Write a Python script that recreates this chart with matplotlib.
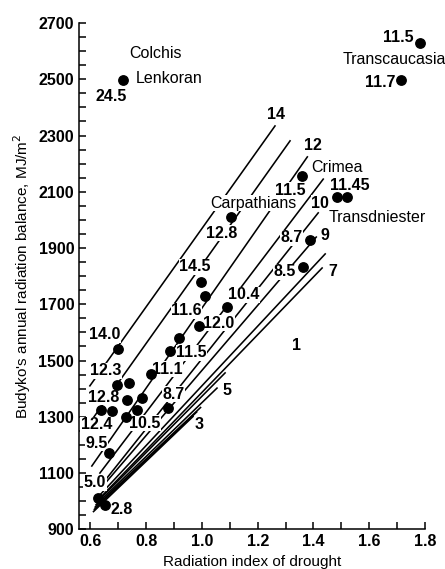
import matplotlib
matplotlib.use("Agg")
import matplotlib.pyplot as plt
from matplotlib.ticker import MultipleLocator

plt.rcParams['font.family'] = ['Liberation Sans', 'DejaVu Sans']

# observation points
pt_x = [0.716, 1.783, 1.714, 1.358, 1.484, 1.522, 1.104, 1.388, 1.362, 0.997,
        1.011, 1.089, 0.991, 0.918, 0.698, 0.885, 0.817, 0.696, 0.739, 0.732,
        0.784, 0.637, 0.677, 0.768, 0.879, 0.726, 0.666, 0.626, 0.652]
pt_y = [2497, 2630, 2497, 2156, 2082, 2082, 2009, 1929, 1834, 1778,
        1731, 1691, 1624, 1579, 1540, 1534, 1451, 1413, 1421, 1360,
        1366, 1324, 1321, 1324, 1332, 1300, 1172, 1010, 987]

# isolines (start and end)
line_x0 = [0.598, 0.605, 0.605, 0.634, 0.659, 0.648, 0.634, 0.627, 0.623, 0.620, 0.617, 0.614, 0.611]
line_y0 = [1410, 1289, 1125, 1100, 1082, 1058, 1022, 1004, 996, 987, 979, 971, 963]
line_x1 = [1.262, 1.316, 1.378, 1.435, 1.417, 1.410, 1.442, 1.431, 1.083, 1.054, 0.995, 0.981, 0.968]
line_y1 = [2334, 2281, 2224, 2145, 2025, 1939, 1879, 1829, 1456, 1402, 1333, 1317, 1301]

# numeric labels
num_text = ["24.5", "11.5", "11.7", "11.5", "11.45", "10", "12.8", "8.7", "9",
            "14.5", "8.5", "7", "14", "12", "10.4", "11.6", "12.0", "1", "14.0",
            "11.5", "12.3", "11.1", "5", "8.7", "12.8", "12.4", "10.5", "3",
            "9.5", "5.0", "2.8"]
num_x = [0.676, 1.704, 1.640, 1.316, 1.532, 1.424, 1.071, 1.322, 1.442,
         0.975, 1.298, 1.471, 1.266, 1.399, 1.149, 0.945, 1.059, 1.338, 0.652,
         0.963, 0.656, 0.874, 1.089, 0.897, 0.648, 0.622, 0.796, 0.990,
         0.622, 0.616, 0.712]
num_y = [2438, 2647, 2487, 2106, 2124, 2060, 1953, 1936, 1946,
         1833, 1815, 1818, 2373, 2266, 1733, 1677, 1632, 1555, 1591,
         1528, 1464, 1469, 1395, 1380, 1369, 1271, 1277, 1274,
         1206, 1066, 971]

# region names
reg_text = ["Colchis", "Lenkoran", "Crimea", "Carpathians", "Transdniester"]
reg_x = [0.834, 0.882, 1.483, 1.183, 1.629]
reg_y = [2592, 2504, 2185, 2060, 2010]

fig = plt.figure(figsize=(4.45, 5.69), dpi=100)
ax = fig.add_axes([79 / 445, 39.7 / 569, 346 / 445, 506.3 / 569])

for x0, y0, x1, y1 in zip(line_x0, line_y0, line_x1, line_y1):
    ax.plot([x0, x1], [y0, y1], color='black', lw=1.15, zorder=2)

ax.scatter(pt_x, pt_y, s=46, color='black', zorder=5, clip_on=False)

box = dict(facecolor='white', edgecolor='none', pad=0.3)
for t, x, y in zip(num_text, num_x, num_y):
    ax.text(x, y, t, fontsize=11.5, fontweight='bold', ha='center', va='center',
            bbox=box, zorder=4)
for t, x, y in zip(reg_text, reg_x, reg_y):
    ax.text(x, y, t, fontsize=11.5, ha='center', va='center', bbox=box, zorder=4)
ax.text(1.503, 2572, "Transcaucasia", fontsize=11.5, ha='left', va='center', zorder=4)

ax.set_xlim(0.559, 1.8)
ax.set_ylim(900, 2700)
ax.xaxis.set_minor_locator(MultipleLocator(0.1))
ax.yaxis.set_minor_locator(MultipleLocator(50))
ax.set_xticks([0.6, 0.8, 1.0, 1.2, 1.4, 1.6, 1.8])
ax.set_yticks(list(range(900, 2701, 200)))
ax.tick_params(which='both', direction='in', length=5, width=1.1)
for lab in ax.get_xticklabels() + ax.get_yticklabels():
    lab.set_fontweight('bold')
    lab.set_fontsize(11.5)
ax.spines['top'].set_visible(False)
ax.spines['right'].set_visible(False)
ax.spines['left'].set_linewidth(1.1)
ax.spines['bottom'].set_linewidth(1.1)

ax.set_xlabel("Radiation index of drought", fontsize=11)
ax.set_ylabel("Budyko's annual radiation balance, MJ/m$^2$", fontsize=11)

fig.savefig("out.png", dpi=100)
